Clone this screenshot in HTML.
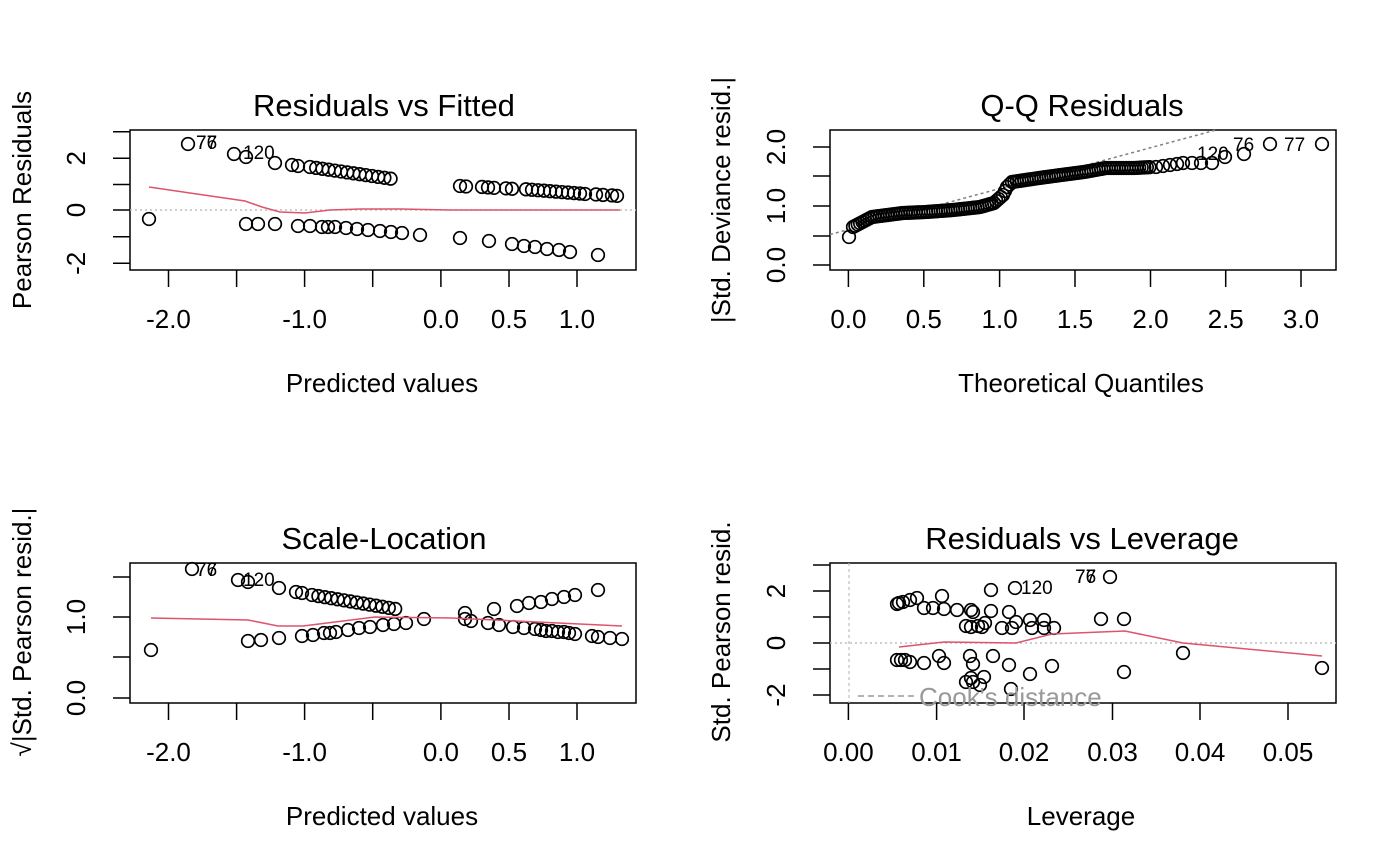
<!DOCTYPE html>
<html><head><meta charset="utf-8"><style>
html,body{margin:0;padding:0;background:#fff}
svg{display:block}
text{font-family:"Liberation Sans",Arial,sans-serif;fill:#000}
</style></head><body>
<svg id="s" width="1400" height="866" xmlns="http://www.w3.org/2000/svg">
<g text-anchor="middle">
<text x="384" y="116" font-size="31">Residuals vs Fitted</text>
<text x="1082" y="116" font-size="31">Q-Q Residuals</text>
<text x="384" y="549" font-size="31">Scale-Location</text>
<text x="1082" y="549" font-size="31">Residuals vs Leverage</text>
<g font-size="26">
<text x="382" y="392">Predicted values</text>
<text x="1081" y="392">Theoretical Quantiles</text>
<text x="382" y="825">Predicted values</text>
<text x="1081" y="825">Leverage</text>
<text transform="translate(31,200) rotate(-90)">Pearson Residuals</text>
<text transform="translate(730,200) rotate(-90)">|Std. Deviance resid.|</text>
<text transform="translate(31,632) rotate(-90)">√|Std. Pearson resid.|</text>
<text transform="translate(730,632) rotate(-90)">Std. Pearson resid.</text>
</g></g>
<g id="g"></g>
</svg>
<script>
var NS="http://www.w3.org/2000/svg",G=document.getElementById("g");
function el(t,a,txt){var e=document.createElementNS(NS,t);for(var k in a)e.setAttribute(k,a[k]);if(txt!=null)e.textContent=txt;G.appendChild(e);return e;}
function box(x0,y0,x1,y1){el("rect",{x:x0,y:y0,width:x1-x0,height:y1-y0,fill:"none",stroke:"#000","stroke-width":1.5});}
function xt(y,ticks){ticks.forEach(function(t){el("line",{x1:t[0],x2:t[0],y1:y,y2:y+17,stroke:"#000","stroke-width":1.5});if(t[1])el("text",{x:t[0],y:y+58,"font-size":26,"text-anchor":"middle"},t[1]);});}
function yt(x,ticks){ticks.forEach(function(t){el("line",{x1:x-17,x2:x,y1:t[0],y2:t[0],stroke:"#000","stroke-width":1.5});if(t[1])el("text",{transform:"translate("+(x-45)+","+t[0]+") rotate(-90)","font-size":26,"text-anchor":"middle"},t[1]);});}
function pts(a){a.forEach(function(p){el("circle",{cx:p[0],cy:p[1],r:6.3,fill:"none",stroke:"#000","stroke-width":1.7});});}
function line(a,st,w,dash){el("polyline",{points:a.map(function(p){return p.join(",")}).join(" "),fill:"none",stroke:st,"stroke-width":w||1.5,"stroke-dasharray":dash||"none"});}
function lab(x,y,t){el("text",{x:x,y:y,"font-size":19},t);}
var RED="#df536b",GR="#bebebe";
// Panel 1
box(130,130,636,270);
line([[130,210],[636,210]],GR,1.5,"2,3");
var xp=[[168.5,"-2.0"],[236.6,""],[304.6,"-1.0"],[372.7,""],[440.9,"0.0"],[509,"0.5"],[577,"1.0"]];
xt(270,xp);yt(130,[[131.7,""],[158.3,"2"],[184.5,""],[210,"0"],[236.7,""],[263.3,"-2"]]);
var p1=[[149,219],[188,144],[234,154],[246,157],[275,163],[292,165],[298,166]];
for(var i=0;i<14;i++)p1.push([310+i*6.2,167+i*0.9]);
[460,466,482,488,494,506,512,526,532,538,544,550,556,562,568,574,580,585,596,603,612,617].forEach(function(x,i){p1.push([x,186+i*0.47]);});
[[246,224],[258,224],[275,224],[298,226],[310,226],[322,227],[328,227],[335,227],[346,228],[357,229],[368,230],[380,231],[391,232],[402,233],[420,235],[460,238],[489,241],[512,244],[524,246],[535,247],[547,249],[559,250],[570,252],[598,255]].forEach(function(p){p1.push(p)});
pts(p1);
line([[149,187],[190,193],[245,201],[262,207],[280,212],[305,213],[330,210],[360,209],[400,209],[450,210],[620,210]],RED,1.5);
lab(196,149,"77");lab(196,149,"76");lab(243,159,"120");
// Panel 2
box(830,130,1336,270);
xt(270,[[848.4,"0.0"],[923.8,"0.5"],[999.6,"1.0"],[1075,"1.5"],[1150.5,"2.0"],[1225.7,"2.5"],[1301,"3.0"]]);
yt(830,[[147,"2.0"],[176,""],[206,"1.0"],[236,""],[265,"0.0"]]);
line([[830,234.5],[1216,130]],"#808080",1.5,"3,3");
var ck=[[853,227],[872,217],[903,213],[926,212],[953,210],[980,207],[994,203],[1003,195],[1007,187],[1012,182],[1039,178],[1061,175],[1084,172],[1106,168],[1134,168],[1152,167]];
var p2=[[849,237]];
for(var k=0;k<ck.length-1;k++){var a=ck[k],b=ck[k+1],n=Math.max(2,Math.round((b[0]-a[0])/2.5));for(var j=0;j<n;j++)p2.push([a[0]+(b[0]-a[0])*j/n,a[1]+(b[1]-a[1])*j/n]);}
[[1156,167],[1163,166],[1170,165],[1177,164],[1183,163],[1192,163],[1201,163],[1212,163],[1225,157],[1244,154],[1270,144],[1322,144]].forEach(function(p){p2.push(p)});
pts(p2);
lab(1197,160,"120");lab(1233,151,"76");lab(1284,151,"77");
// Panel 3
box(130,563,636,703);
xt(703,xp);yt(130,[[577,""],[617,"1.0"],[657,""],[698,"0.0"]]);
var p3=[[151,650],[192,569],[238,580],[248,582],[279,588],[296,592],[302,593]];
for(var i=0;i<14;i++)p3.push([312+i*6.4,595+i*1.07]);
[[248,641],[261,640],[279,638],[302,636],[313,635],[324,633],[330,633],[336,632],[348,630],[359,628],[370,627],[383,625],[394,624],[406,623],[424,619],[465,613],[465,619],[471,621],[494,609],[488,623],[499,625],[517,606],[529,603],[541,602],[552,599],[564,597],[575,595],[598,590],[513,627],[524,628],[535,629],[541,630],[546,631],[552,631],[558,632],[564,632],[569,633],[575,634],[592,636],[598,637],[610,638],[622,639]].forEach(function(p){p3.push(p)});
pts(p3);
line([[151,618],[248,620],[278,626],[303,626],[375,617],[452,618],[622,626]],RED,1.5);
lab(196,576,"77");lab(196,576,"76");lab(243,586,"120");
// Panel 4
box(830,563,1336,703);
line([[849,563],[849,703]],GR,1.2,"3,3");
line([[830,643],[1336,643]],GR,1.5,"2,3");
xt(703,[[848.4,"0.00"],[936.6,"0.01"],[1024,"0.02"],[1112.5,"0.03"],[1200,"0.04"],[1288,"0.05"]]);
yt(830,[[565,""],[591,"2"],[617,""],[643,"0"],[669,""],[695,"-2"]]);
pts([[899,603],[903,602],[910,600],[917,598],[924,608],[933,608],[942,596],[944,609],[957,610],[971,610],[973,612],[966,626],[971,627],[978,626],[982,627],[985,623],[991,611],[991,590],[1002,628],[1009,612],[1012,628],[1015,588],[1016,622],[1030,620],[1032,628],[1044,620],[1044,628],[1054,628],[1101,619],[1110,577],[1124,619],[901,660],[905,660],[910,662],[924,663],[939,656],[944,663],[970,656],[973,664],[993,656],[1009,665],[1030,674],[1052,666],[966,682],[971,678],[973,682],[984,677],[980,685],[1011,689],[1124,672],[1183,653],[1322,668],[897,604],[897,660]]);
line([[899,647],[944,642],[1016,643],[1052,634],[1125,631],[1183,643],[1322,656]],RED,1.5);
lab(1021,594,"120");lab(1075,583,"77");lab(1075,583,"76");
line([[858,696],[916,696]],"#999",1.5,"6,4");
el("text",{x:919,y:706,"font-size":26,style:"fill:#999"},"Cook's distance");
</script>
</body></html>
